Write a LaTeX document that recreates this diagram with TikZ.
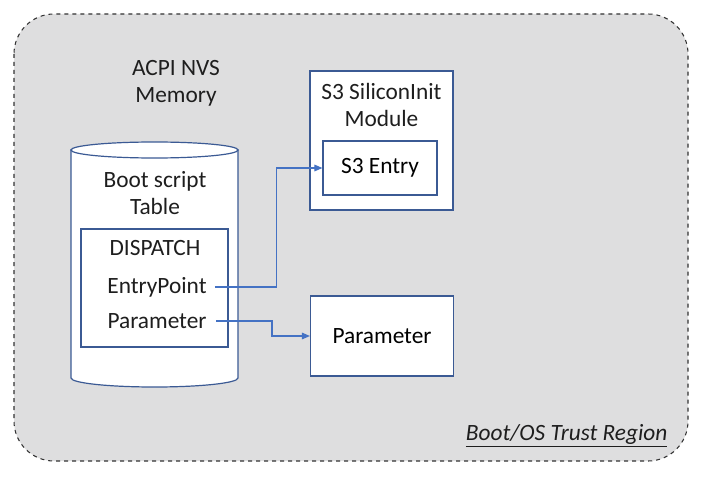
\documentclass[tikz,border=0pt]{standalone}
\usepackage{fontspec}
\setmainfont{Carlito}
\usetikzlibrary{arrows.meta}
\definecolor{RegionGray}{HTML}{DEDEDF}
\definecolor{BoxBlue}{HTML}{3B5A94}
\definecolor{LinkBlue}{HTML}{4472C4}
\definecolor{InkDark}{HTML}{1E1E1E}
\tikzset{
  box/.style={draw=BoxBlue, fill=white, line width=0.9pt, inner sep=0pt},
  link/.style={draw=LinkBlue, line width=0.8pt, -{Triangle[length=6pt,width=5pt]}},
  lbl/.style={text=InkDark, inner sep=1pt, align=center}
}

\begin{document}
\begin{tikzpicture}[x=0.75pt,y=-0.75pt, every node/.style={font=\fontsize{17.5}{20.5}\selectfont}]
  \useasboundingbox (0,0) rectangle (705,477);
  % trust region
  \draw[fill=RegionGray, draw=black!80, dashed, line width=0.8pt, rounded corners=30pt] (14,14) rectangle (688,461);
  \node[lbl, anchor=east, font=\fontsize{17.5}{20.5}\selectfont\itshape] (trust) at (669,436) {\underline{Boot/OS Trust Region}};
  % NVS memory
  \node[lbl] (nvs) at (176,83) {ACPI NVS\\Memory};
  \draw[box] (71,150) -- (71,378) arc[start angle=180, end angle=0, x radius=83.5, y radius=9] -- (238,150) -- cycle;
  \draw[box] (154.5,150) ellipse[x radius=83.5, y radius=8];
  \node[lbl] (table) at (155,193) {Boot script\\Table};
  \node[box, minimum width=110.25pt, minimum height=88.5pt] (disp) at (154.5,288) {};
  \node[lbl] (dtitle) at (155,248) {DISPATCH};
  \node[lbl] (ep) at (157,287) {EntryPoint};
  \node[lbl] (par) at (157,321) {Parameter};
  % S3 module
  \node[box, minimum width=107.25pt, minimum height=104.25pt] (s3mod) at (381.5,140.5) {};
  \node[lbl] (s3title) at (381.5,105) {S3 SiliconInit\\Module};
  \node[box, minimum width=85.5pt, minimum height=40.5pt] (s3e) at (380,168) {S3 Entry};
  % parameter block
  \node[box, minimum width=107.25pt, minimum height=60pt] (pblk) at (382,336) {Parameter};
  % links
  \coordinate (epjog) at (270,0);
  \coordinate (parjog) at (264,0);
  \draw[link] ([xshift=5pt]ep.east) -- ([xshift=5pt]ep.east -| epjog) |- (s3e.west);
  \draw[link] ([xshift=6pt]par.east) -- ([xshift=6pt]par.east -| parjog) |- (pblk.west);
\end{tikzpicture}
\end{document}
